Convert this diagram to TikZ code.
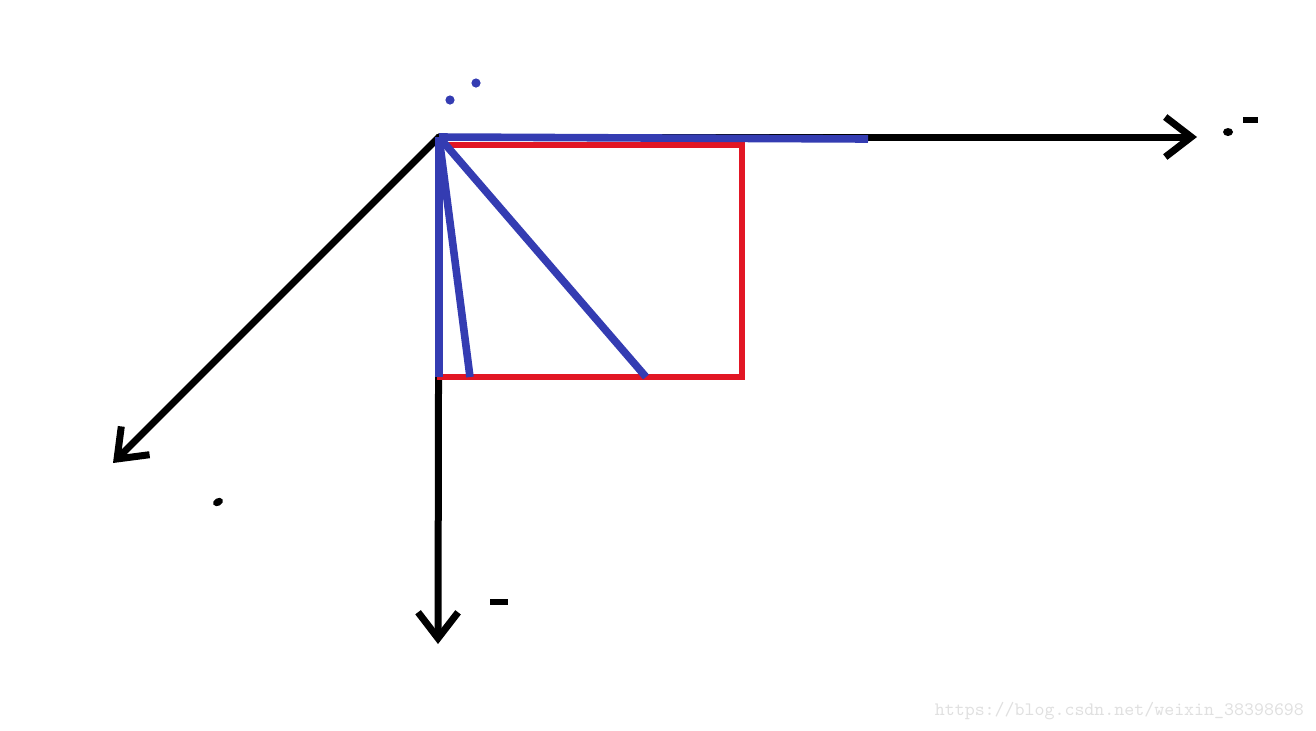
\documentclass[tikz,border=0pt]{standalone}
\usepackage{tikz}
\usetikzlibrary{arrows.meta}
\definecolor{penblue}{RGB}{52,60,178}
\definecolor{penred}{RGB}{226,22,36}
\begin{document}
\begin{tikzpicture}[x=0.5pt,y=-0.5pt,
		axis/.style={line width=3.5pt, line cap=round, -{Straight Barb[length=13pt,width=20pt,line width=3.5pt]}},
		blueline/.style={draw=penblue, line width=3.8pt},
		redline/.style={draw=penred, line width=2.8pt},
		tick/.style={line width=3pt}]
		\useasboundingbox (0,0) rectangle (1316,730);
		\path	(439,137) coordinate (o)
			(1197,137) coordinate (xend)
			(438,644) coordinate (yend)
			(113,463) coordinate (zend)
			(440,145) coordinate (rtl)
			(742,377) coordinate (rbr)
			(439,377) coordinate (bl)
			(470,377) coordinate (b1)
			(646,377) coordinate (b2)
			(868,139) coordinate (bx);
		\draw [axis] (o) -- (xend);
		\draw [axis] (o) -- (yend);
		\draw [axis] (o) -- (zend);
		\draw [redline] (rtl) rectangle (rbr);
		\draw [blueline] (o) -- (bx);
		\foreach \p in {bl, b1, b2}
			\draw [blueline] (o) -- (\p);
		\foreach \x/\y in {450/100, 476/83}
			\fill [penblue] (\x,\y) circle (2.3pt);
		\fill (1228,132) ellipse (2.5pt and 2pt);
		\fill [rotate around={30:(218,502)}] (218,502) ellipse (2.6pt and 1.9pt);
		\draw [tick] (1243,120) -- (1258,120);
		\draw [tick] (490,602) -- (508,602);
		\node (mark) [text=black!12, font=\ttfamily\fontsize{9.5}{11}\selectfont, anchor=east] at (1311,711) {https://blog.csdn.net/weixin\_38398698};
	\end{tikzpicture}
\end{document}
